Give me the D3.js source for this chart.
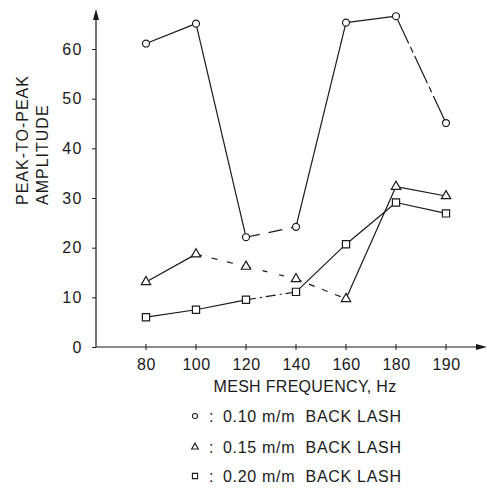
<!DOCTYPE html>
<html><head><meta charset="utf-8">
<script src="https://cdn.jsdelivr.net/npm/d3@7"></script>
<style>
body{margin:0;background:#fff;}
text{font-family:"Liberation Sans",Arial,sans-serif;fill:#1a1a1a;}
</style></head>
<body><svg id="c" width="487" height="491"></svg>
<script>
const categories = ["80","100","120","140","160","180","190"];
const seriesNames = ["0.10 m/m  BACK LASH","0.15 m/m  BACK LASH","0.20 m/m  BACK LASH"];
const backlash010 = [61.1, 65.1, 22.1, 24.2, 65.3, 66.6, 45.1];
const backlash015 = [13.1, 18.7, 16.2, 13.7, 9.7, 32.3, 30.4];
const backlash020 = [6.0, 7.5, 9.5, 11.1, 20.7, 29.1, 26.9];
const yTicks = [0,10,20,30,40,50,60];
const xTitle = "MESH FREQUENCY, Hz";
const yTitle = ["PEAK-TO-PEAK","AMPLITUDE"];

const series = [
  {name: seriesNames[0], values: backlash010, shape: "circle"},
  {name: seriesNames[1], values: backlash015, shape: "triangle"},
  {name: seriesNames[2], values: backlash020, shape: "square"}
];
// segment dash styles (index of segment start) mimicking the broken print
const dashed = {circle: {2: "14 9", 5: "30 4 6 4"}, triangle: {1: "6 10", 2: "5 12", 3: "6 8"}, square: {2: "10 4 2 4"}};

const svg = d3.select("#c");
const ink = "#1a1a1a";
const x = d3.scalePoint().domain(categories).range([146, 446]);
const y = d3.scaleLinear().domain([0, 60]).range([347, 49]);
const x0 = 96, y0 = y(0);

// axes
const xAxis = d3.axisBottom(x).tickSize(0).tickPadding(12);
const gx = svg.append("g").attr("transform", `translate(0,${y0})`).call(xAxis);
gx.select(".domain").remove();
gx.selectAll("text").attr("font-size", 16).attr("fill", ink).attr("letter-spacing", 0.5).style("font-family", "Liberation Sans, Arial, sans-serif");
const yAxis = d3.axisLeft(y).tickValues(yTicks).tickSize(4).tickPadding(9);
const gy = svg.append("g").attr("transform", `translate(${x0},0)`).call(yAxis);
gy.select(".domain").remove();
gy.selectAll("line").attr("stroke", ink);
gy.selectAll("text").attr("font-size", 16).attr("fill", ink).attr("letter-spacing", 1.5).style("font-family", "Liberation Sans, Arial, sans-serif");

// axis lines with arrows
svg.append("line").attr("x1", x0).attr("x2", x0).attr("y1", y0).attr("y2", 12).attr("stroke", ink).attr("stroke-width", 1.2);
svg.append("path").attr("d", `M${x0-3},${20} L${x0},${9} L${x0+3},${20} Z`).attr("fill", ink);
svg.append("line").attr("x1", x0).attr("x2", 482).attr("y1", y0).attr("y2", y0).attr("stroke", ink).attr("stroke-width", 1.2);
svg.append("path").attr("d", `M${476},${y0-3} L${487},${y0} L${476},${y0+3} Z`).attr("fill", ink);
// x tick marks
svg.selectAll(".xt").data(categories).enter().append("line")
  .attr("x1", d => x(d)).attr("x2", d => x(d)).attr("y1", y0 - 3).attr("y2", y0 + 3)
  .attr("stroke", ink).attr("stroke-width", 1);

// titles
svg.append("text").attr("x", (x(categories[0]) + x(categories[6])) / 2 + 9).attr("y", 392)
  .attr("text-anchor", "middle").attr("font-size", 16).attr("letter-spacing", 0.3).text(xTitle);
svg.append("text").attr("transform", "translate(28,205) rotate(-90)")
  .attr("font-size", 16).attr("letter-spacing", 1.0).text(yTitle[0]);
svg.append("text").attr("transform", "translate(48,205) rotate(-90)")
  .attr("font-size", 16).attr("letter-spacing", 1.0).text(yTitle[1]);

// lines (segment by segment)
series.forEach(s => {
  const pts = s.values.map((v, i) => [x(categories[i]), y(v)]);
  for (let i = 0; i < pts.length - 1; i++) {
    svg.append("path")
      .attr("d", d3.line()([pts[i], pts[i+1]]))
      .attr("fill", "none").attr("stroke", ink).attr("stroke-width", 1.2)
      .attr("stroke-dasharray", (dashed[s.shape] && dashed[s.shape][i]) || null);
  }
});

// markers
const symGen = {
  circle: d3.symbol(d3.symbolCircle, 38),
  triangle: d3.symbol(d3.symbolTriangle, 38),
  square: d3.symbol(d3.symbolSquare, 52)
};
series.forEach(s => {
  svg.selectAll(null).data(s.values).enter().append("path")
    .attr("d", symGen[s.shape]())
    .attr("transform", (d, i) => `translate(${x(categories[i])},${y(d)})`)
    .attr("fill", "#fff").attr("stroke", ink).attr("stroke-width", 1.2);
});

// legend
const legY = [416, 447, 476];
series.forEach((s, i) => {
  const g = svg.append("g").attr("transform", `translate(0,${legY[i]})`);
  g.append("path").attr("d", symGen[s.shape]()).attr("transform", "translate(195,0) scale(0.72)")
    .attr("fill", "#fff").attr("stroke", ink).attr("stroke-width", 1.5);
  g.append("text").attr("x", 209).attr("y", 6).attr("font-size", 16).text(":");
  g.append("text").attr("x", 223).attr("y", 6).attr("font-size", 16).attr("letter-spacing", 0.7)
    .style("white-space", "pre").text(s.name);
});
</script></body></html>
